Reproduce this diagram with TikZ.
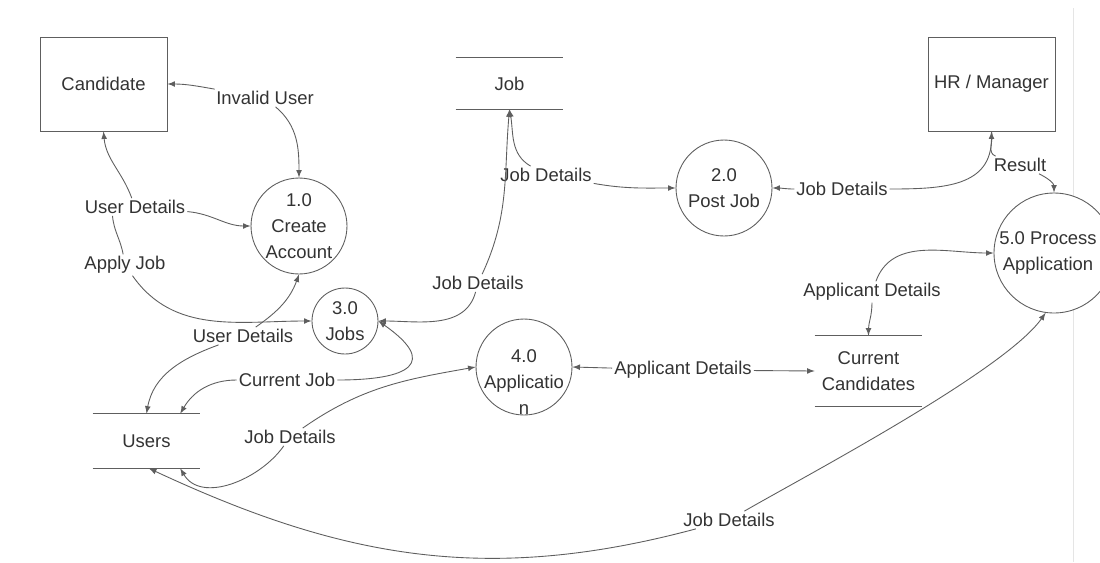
\documentclass[tikz,border=0pt]{standalone}
\usepackage{fontspec}
\setmainfont{Liberation Sans}
\usepackage{xcolor}
\usepackage{tikz}

\definecolor{inkgray}{HTML}{5E5E5E}
\definecolor{textgray}{HTML}{333333}

\begin{document}
\begin{tikzpicture}[x=0.02cm,y=-0.02cm,
  font=\fontsize{10.5}{15}\selectfont, text=textgray, >=latex,
  entity/.style={draw=inkgray,line width=0.5pt,minimum width=2.54cm,minimum height=1.88cm},
  process/.style={draw=inkgray,line width=0.5pt,fill=white,circle,inner sep=0pt,minimum size=1.92cm},
  store/.style={minimum width=2.14cm,align=center,inner sep=0pt},
  flow/.style={draw=inkgray,line width=0.5pt},
  lbl/.style={fill=white,inner sep=1pt}]
\useasboundingbox (0,0) rectangle (1100,562);
\fill[white] (0,0) rectangle (1100,562);
\draw[gray!20] (1073,8) -- (1073,562);

% external entities
\node[entity] (cand) at (103.5,84) {Candidate};
\node[entity] (hr) at (991.5,84) {HR / Manager};

% processes
\node[process] (c1) at (299,226) [label={[align=center]center:1.0\\Create\\Account}] {};
\node[process] (c2) at (724,188) [label={[align=center]center:2.0\\Post Job}] {};
\node[process,minimum size=1.32cm] (c3) at (345,321) [label={[align=center]center:3.0\\Jobs}] {};
\node[process] (c4) at (524,367) [label={[align=center,yshift=-0.3cm]center:4.0\\Applicatio\\n}] {};
\node[process,minimum size=2.4cm] (c5) at (1054,253) [label={[align=center,xshift=-0.12cm]center:5.0 Process\\Application}] {};

% data stores
\node[store,minimum height=1.02cm] (job) at (509.5,83.5) {Job};
\node[store,minimum height=1.08cm] (users) at (146.5,441) {Users};
\node[store,minimum height=1.4cm] (cur) at (868.5,371) {Current\\Candidates};
\foreach \s in {job,users,cur}
  \draw[inkgray,line width=0.5pt] (\s.north west) -- (\s.north east) (\s.south west) -- (\s.south east);

% flow labels
\node[lbl] (inv) at (265,98) {Invalid User};
\node[lbl] (ud1) at (135,207) {User Details};
\node[lbl] (apply) at (125,265) {Apply Job};
\node[lbl] (ud2) at (243,336) {User Details};
\node[lbl] (curjob) at (287,380) {Current Job};
\node[lbl] (jd3) at (478,283) {Job Details};
\node[lbl] (jd2) at (546,175) {Job Details};
\node[lbl] (jdh) at (842,189) {Job Details};
\node[lbl] (res) at (1020,165) {Result};
\node[lbl] (ad1) at (872,292) {Applicant Details};
\node[lbl] (ad2) at (683,370) {Applicant Details};
\node[lbl] (jdu) at (290,437) {Job Details};
\node[lbl] (jd5) at (729,520) {Job Details};

% data flows, each one broken by its label
\draw[flow,<-] (cand.east) to[out=0,in=170] (inv);
\draw[flow,->] (inv) to[out=-40,in=90] (c1.north);
\draw[flow,<-] (cand.south) to[out=-85,in=110] (ud1);
\draw[flow,->] (ud1) to[out=-5,in=180] (c1.west);
\draw[flow] ([xshift=-0.45cm]ud1.south) to[out=-85,in=100] (apply);
\draw[flow,->] (apply) to[out=-55,in=180] (c3.west);
\draw[flow,<-] (c1.south) to[out=-110,in=35] (ud2);
\draw[flow,->] (ud2) to[out=-160,in=80] (users.north);
\draw[flow,<-] (c3.east) to[out=-35,in=0,looseness=2.6] (curjob);
\draw[flow,->] (curjob) to[out=180,in=60] (users.39);
\draw[flow,<-] (job.south) to[out=-95,in=65] (jd3);
\draw[flow,->] (jd3) to[out=-105,in=0] (c3.east);
\draw[flow,<-] (job.south) to[out=-80,in=150] (jd2);
\draw[flow,->] (jd2) to[out=-10,in=180] (c2.west);
\draw[flow,<-] (c2.east) to[out=0,in=180] (jdh);
\draw[flow,->] (jdh) to[out=0,in=-90,looseness=1.2] (hr.south);
\draw[flow] (hr.south) to[out=-75,in=160] (res);
\draw[flow,->] (res) to[out=-25,in=90] (c5.north);
\draw[flow,<-] (c5.west) to[out=180,in=70] (ad1);
\draw[flow,->] (ad1) to[out=-90,in=90] (cur.north);
\draw[flow,<-] (c4.east) -- (ad2);
\draw[flow,->] (ad2) -- (cur.west);
\draw[flow,<-] (c4.west) to[out=190,in=35] (jdu);
\draw[flow,->] (jdu) to[out=-125,in=-60] (users.-39);
\draw[flow,<-] (c5.-98) to[out=-125,in=30,looseness=0.5] (jd5);
\draw[flow,->] (jd5) to[out=-165,in=-25] (users.-85);
\end{tikzpicture}
\end{document}
